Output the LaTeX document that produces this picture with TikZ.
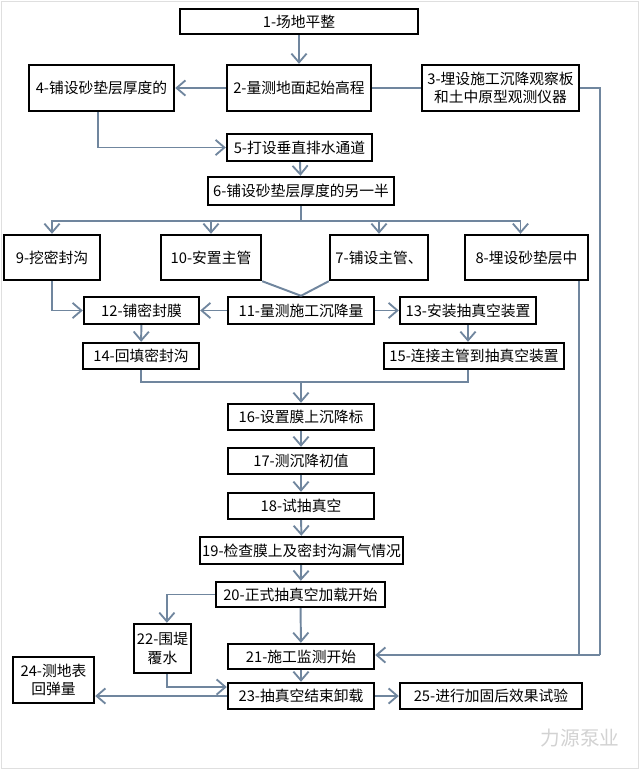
\documentclass[tikz,border=0pt]{standalone}
\usepackage{fontspec}
\setmainfont{Noto Sans CJK SC}
\usetikzlibrary{arrows.meta}
\definecolor{linkblue}{RGB}{112,134,158}

\begin{document}
\begin{tikzpicture}[x=0.025cm,y=-0.025cm,
  font=\fontsize{10.5}{13}\selectfont,
  box/.style={draw=black, line width=1.7pt, fill=white, inner sep=0pt, align=center},
  link/.style={draw=linkblue, line width=1.4pt},
  flow/.style={link, -{Straight Barb[length=0.22cm,width=0.38cm,line width=1.3pt]}}]
  \useasboundingbox (0,0) rectangle (640,770);
  \draw[gray!25] (1.5,1.5) rectangle (638.5,768.5);

  \node[box, minimum width=5.95cm, minimum height=0.625cm] (n1) at (299,21.5) {1-场地平整};
  \node[box, minimum width=3.6cm, minimum height=1.15cm] (n2) at (299,88) {2-量测地面起始高程};
  \node[box, minimum width=3.625cm, minimum height=1.15cm] (n4) at (101.5,88) {4-铺设砂垫层厚度的};
  \node[box, minimum width=3.925cm, minimum height=1.15cm] (n3) at (500.5,88) {3-埋设施工沉降观察板\\和土中原型观测仪器};
  \node[box, minimum width=3.625cm, minimum height=0.675cm] (n5) at (299.5,147.5) {5-打设垂直排水通道};
  \node[box, minimum width=4.65cm, minimum height=0.7cm] (n6) at (301,191) {6-铺设砂垫层厚度的另一半};

  \node[box, minimum width=2.4cm, minimum height=1.125cm] (n9) at (52,257.5) {9-挖密封沟};
  \node[box, minimum width=2.5cm, minimum height=1.125cm] (n10) at (211,257.5) {10-安置主管};
  \node[box, minimum width=2.45cm, minimum height=1.125cm] (n7) at (379,257.5) {7-铺设主管、};
  \node[box, minimum width=3.075cm, minimum height=1.125cm] (n8) at (526.5,257.5) {8-埋设砂垫层中};

  \node[box, minimum width=3.65cm, minimum height=0.675cm] (n11) at (301,310.5) {11-量测施工沉降量};
  \node[box, minimum width=2.875cm, minimum height=0.675cm] (n12) at (141.5,310.5) {12-铺密封膜};
  \node[box, minimum width=3.4cm, minimum height=0.675cm] (n13) at (468,310.5) {13-安装抽真空装置};
  \node[box, minimum width=2.9cm, minimum height=0.65cm] (n14) at (141,356) {14-回填密封沟};
  \node[box, minimum width=4.5cm, minimum height=0.65cm] (n15) at (474,356) {15-连接主管到抽真空装置};

  \node[box, minimum width=3.65cm, minimum height=0.65cm] (n16) at (301,417) {16-设置膜上沉降标};
  \node[box, minimum width=3.65cm, minimum height=0.65cm] (n17) at (301,461) {17-测沉降初值};
  \node[box, minimum width=3.65cm, minimum height=0.65cm] (n18) at (301,506) {18-试抽真空};
  \node[box, minimum width=5.075cm, minimum height=0.675cm] (n19) at (301.5,550.5) {19-检查膜上及密封沟漏气情况};
  \node[box, minimum width=4.225cm, minimum height=0.625cm] (n20) at (300.5,594.5) {20-正式抽真空加载开始};

  \node[box, minimum width=1.425cm, minimum height=1.225cm] (n22) at (162.5,648.5) {22-围堤\\覆水};
  \node[box, minimum width=3.65cm, minimum height=0.625cm] (n21) at (301,656.5) {21-施工监测开始};
  \node[box, minimum width=2.025cm, minimum height=1.15cm] (n24) at (53.5,680) {24-测地表\\回弹量};
  \node[box, minimum width=3.65cm, minimum height=0.65cm] (n23) at (301,696) {23-抽真空结束卸载};
  \node[box, minimum width=4.55cm, minimum height=0.65cm] (n25) at (491,696) {25-进行加固后效果试验};

  \node[text=gray!35, font=\fontsize{14}{16}\selectfont] (mark) at (580,738) {力源泵业};

  \coordinate (fork) at (301,221);
  \coordinate (join) at (301,382);
  \coordinate (side) at (600,655);

  \draw[flow] (n1) -- (n2);
  \draw[flow] (n2) -- (n4);
  \draw[link] (n2) -- (n3);
  \draw[flow] ([xshift=-0.09cm]n4.south) |- (n5.west);
  \draw[flow] (n5) -- (n6);
  \draw[link] (n6) -- (fork);
  \foreach \n in {n9,n10,n7}
    \draw[flow] (fork) -| (\n.north);
  \draw[flow] (fork) -| ([xshift=-0.15cm]n8.north);
  \draw[link] (n10.south east) -- (n11.north);
  \draw[link] (n7.south west) -- (n11.north);
  \draw[flow] (n11) -- (n12);
  \draw[flow] (n11) -- (n13);
  \draw[flow] (n9.south) |- (n12.west);
  \draw[flow] (n12) -- (n14);
  \draw[flow] (n13.south) -- (n13.south |- n15.north);
  \draw[link] (n14.south) |- (join) -| (n13.south |- n15.south);
  \draw[flow] (join) -- (n16);
  \draw[flow] (n16) -- (n17);
  \draw[flow] (n17) -- (n18);
  \draw[flow] (n18) -- (n19);
  \draw[flow] (n19) -- (n20);
  \draw[flow] (n20.west) -| ([xshift=0.11cm]n22.north);
  \draw[flow] (n20) -- (n21);
  \draw[flow] (n21) -- (n23);
  \draw[flow] ([xshift=0.11cm]n22.south) |- ([yshift=0.225cm]n23.west);
  \draw[flow] (n23.west) -- (n23.west -| n24.east);
  \draw[flow] (n23) -- (n25);
  \draw[link] (n3.east) -| (side);
  \draw[link] (n8.south -| 579,0) -- (579,655);
  \draw[flow] (side) -- (side -| n21.east);
\end{tikzpicture}
\end{document}
